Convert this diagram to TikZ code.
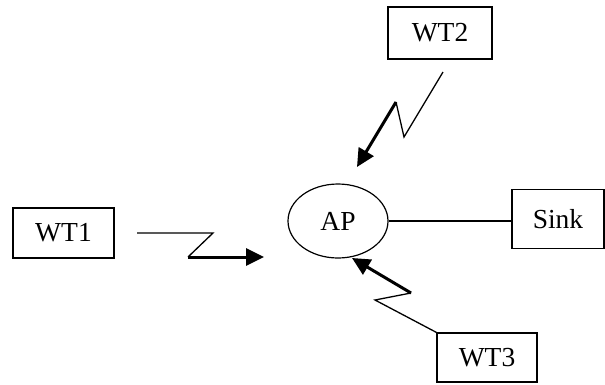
\documentclass[tikz,border=0pt]{standalone}
\usepackage{fontspec}
\setmainfont{Liberation Serif}
\usetikzlibrary{arrows.meta,shapes.geometric}
\begin{document}
\begin{tikzpicture}[x=1pt,y=-1pt,
  box/.style={draw,line width=1.2pt,inner sep=0pt,font=\fontsize{27.5}{31}\selectfont},
  thinline/.style={line width=1.3pt},
  thickline/.style={line width=3pt,-{Triangle[length=18pt,width=17pt]}}]
\useasboundingbox (0,0) rectangle (605,384);
\node[box,minimum width=101pt,minimum height=50pt] (wt1) at (63.5,233) {WT1};
\node[box,minimum width=104pt,minimum height=52pt] (wt2) at (440,33) {WT2};
\node[box,ellipse,minimum width=100pt,minimum height=74pt] (ap) at (338,221) {AP};
\node[box,minimum width=92pt,minimum height=59pt] (sink) at (558,219) {Sink};
\node[box,minimum width=100pt,minimum height=49pt] (wt3) at (487,357.5) {WT3};
% bolt 1 (WT1)
\coordinate (b1s) at (137,233);
\coordinate (b1a) at (213,233);
\coordinate (b1b) at (188,257);
\coordinate (b1t) at (264,257);
\draw[thinline,line join=miter] (b1s) -- (b1a) -- (b1b);
\draw[thickline] (b1b) -- (b1t);
% bolt 2 (WT2)
\coordinate (b2s) at (443,72);
\coordinate (b2a) at (404,137);
\coordinate (b2b) at (396,102);
\coordinate (b2t) at (357,167);
\draw[thinline,line join=miter] (b2s) -- (b2a) -- (b2b);
\draw[thickline] (b2b) -- (b2t);
% bolt 3 (WT3)
\coordinate (b3a) at (375,300);
\coordinate (b3b) at (411,293);
\coordinate (b3t) at (352,258);
\draw[thinline,line join=miter] (wt3.north west) -- (b3a) -- (b3b);
\draw[thickline] (b3b) -- (b3t);
% AP to Sink
\draw[thinline] (ap.east) -- (ap.east -| sink.west);
\end{tikzpicture}
\end{document}
